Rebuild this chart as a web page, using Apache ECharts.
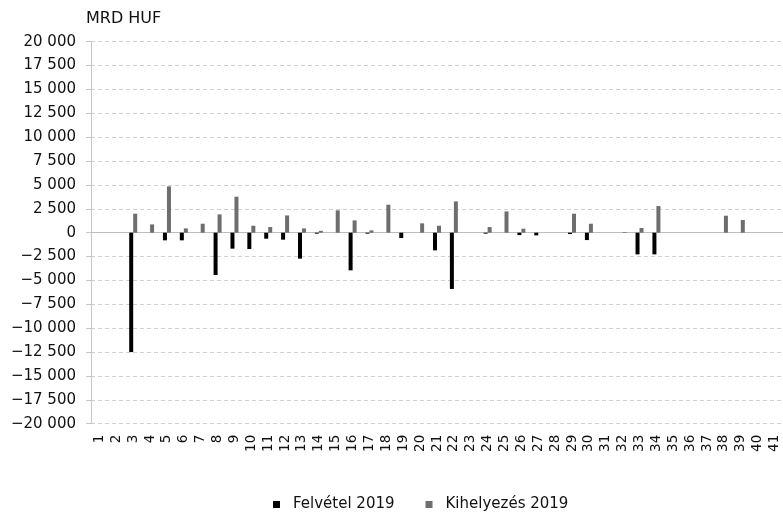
<!DOCTYPE html>
<html>
<head>
<meta charset="utf-8">
<script src="https://cdn.jsdelivr.net/npm/echarts@6/dist/echarts.min.js"></script>
<style>html,body{margin:0;padding:0;background:#fff;}#c{width:783px;height:515px;}</style>
</head>
<body>
<div id="c"></div>
<script>
const categories = ['1','2','3','4','5','6','7','8','9','10','11','12','13','14','15','16','17','18','19','20','21','22','23','24','25','26','27','28','29','30','31','32','33','34','35','36','37','38','39','40','41'];
const felvetel2019 = [null,null,-12500,null,-800,-800,null,-4430,-1670,-1710,-630,-730,-2720,-100,null,-3940,-100,null,-560,null,-1850,-5890,null,-100,null,-250,-280,null,-140,-770,null,null,-2270,-2270,null,null,null,null,null,null,null];
const kihelyezes2019 = [null,null,1990,870,4850,450,940,1920,3770,730,590,1810,450,200,2340,1290,240,2930,null,980,730,3280,null,590,2230,420,null,null,1990,940,null,70,490,2790,null,null,null,1780,1330,null,null];
const seriesNames = ['Felvétel 2019', 'Kihelyezés 2019'];
const unitLabel = 'MRD HUF';
const yMin = -20000, yMax = 20000, yStep = 2500;

function fmt(v) {
  const s = String(Math.abs(v)).replace(/\B(?=(\d{3})+(?!\d))/g, ' ');
  return (v < 0 ? '\u2212' : '') + s;
}

const FONT = 'DejaVu Sans';
const chart = echarts.init(document.getElementById('c'), null, {renderer: 'canvas'});
chart.setOption({
  animation: false,
  backgroundColor: '#ffffff',
  title: {
    text: unitLabel, left: 86, top: 11, padding: 0,
    textStyle: {fontFamily: FONT, fontSize: 16, fontWeight: 'normal', color: '#111'}
  },
  grid: {left: 91, top: 41.7, width: 694.5, height: 382},
  legend: {
    left: 268, top: 492, itemWidth: 7, itemHeight: 7, itemGap: 31, icon: 'rect',
    textStyle: {fontFamily: FONT, fontSize: 15, color: '#111', padding: [0, 0, 0, 8]},
    data: seriesNames
  },
  xAxis: [
    {
      type: 'category', data: categories, position: 'top',
      axisLine: {show: true, onZero: true, lineStyle: {color: '#bdbdbd', width: 1}},
      axisTick: {show: false}, axisLabel: {show: false}, splitLine: {show: false}
    },
    {
      type: 'category', data: categories, position: 'bottom',
      axisLine: {show: false, onZero: false}, axisTick: {show: false},
      axisLabel: {rotate: 90, margin: 11, interval: 0, fontFamily: FONT, fontSize: 13.5, color: '#111'},
      splitLine: {show: false}
    }
  ],
  yAxis: {
    type: 'value', min: yMin, max: yMax, interval: yStep,
    axisLine: {show: true, lineStyle: {color: '#c6c6c6', width: 1}},
    axisTick: {show: true, length: 5, lineStyle: {color: '#c6c6c6'}},
    axisLabel: {margin: 15, fontFamily: FONT, fontSize: 15, color: '#111', formatter: fmt},
    splitLine: {show: true, lineStyle: {color: '#d0d0d0', type: [4, 3], width: 1}}
  },
  series: [
    {name: seriesNames[0], type: 'bar', xAxisIndex: 0, data: felvetel2019, barWidth: 4, barGap: '0%', itemStyle: {color: '#000000'}},
    {name: seriesNames[1], type: 'bar', xAxisIndex: 0, data: kihelyezes2019, barWidth: 4, barGap: '0%', itemStyle: {color: '#6e6e6e'}}
  ]
});
</script>
</body>
</html>
